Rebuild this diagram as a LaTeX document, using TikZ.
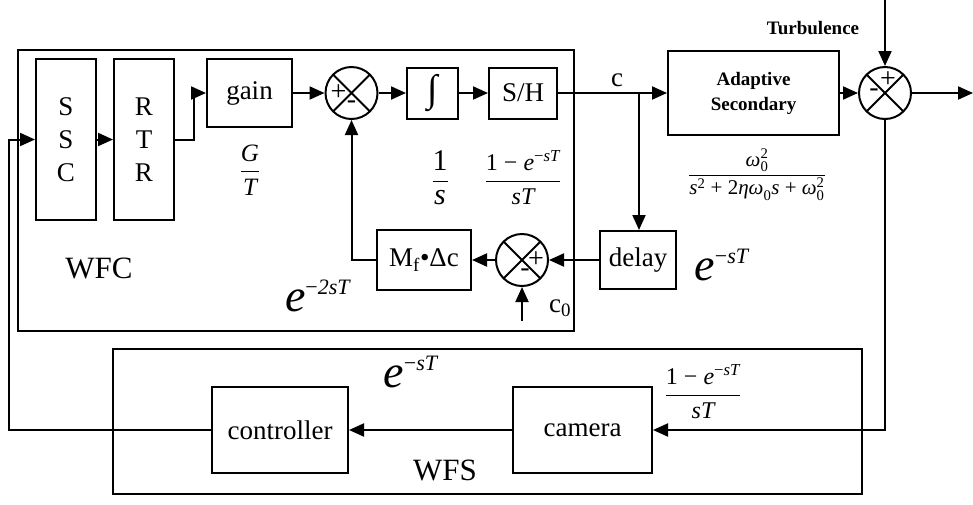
\documentclass[tikz,border=0pt]{standalone}
\usepackage{amsmath}
\usepackage{fontspec}
\setmainfont{Liberation Serif}
\usepackage{tikz}
\usetikzlibrary{positioning,arrows.meta}

\newcommand{\vi}[1]{\textit{#1}}
\newcommand{\zoh}{$\dfrac{\text{1 − }\vi{e}^{\text{−}\vi{sT}}}{\vi{sT}}$}
\newcommand{\bige}[1]{\vi{e}\raisebox{17pt}{\fontsize{22}{22}\selectfont−\vi{#1}}}

\begin{document}
\begin{tikzpicture}[
x=1pt, y=-1pt,
every node/.style={inner sep=0pt, font=\fontsize{27}{33}\selectfont},
blk/.style={draw, line width=2pt, align=center},
sumj/.style={
    draw, circle, line width=2pt, minimum size=52pt,
    path picture={\draw[line width=2pt]
        (path picture bounding box.north west) -- (path picture bounding box.south east)
        (path picture bounding box.north east) -- (path picture bounding box.south west);}
},
sgn/.style={font=\fontsize{28}{28}\selectfont},
arrow/.style={-{Triangle[length=15pt,width=13pt]}, line width=2pt},
bigexp/.style={font=\fontsize{46}{48}\selectfont},
tf/.style={font=\fontsize{24}{28}\selectfont}
]
\useasboundingbox (0,0) rectangle (973,504);

\node (wfc) [draw, line width=2pt, minimum width=556pt, minimum height=281pt] at (296,190.5) {};
\node (wfs) [draw, line width=2pt, minimum width=749pt, minimum height=145pt] at (487.5,421.5) {};

\node (ssc) [blk, minimum width=60pt, minimum height=161pt] at (66,139.5) {S\\S\\C};
\node (rtr) [blk, minimum width=60pt, minimum height=161pt, right=16pt of ssc] {R\\T\\R};
\node (gain) [blk, minimum width=85pt, minimum height=68pt] at (249.5,93) {gain};
\node (s1) [sumj] at (351.5,93) {};
\node (intg) [blk, minimum width=51pt, minimum height=51pt, font=\fontsize{38}{40}\selectfont] at (432.5,93) {∫};
\node (sh) [blk, minimum width=68pt, minimum height=51pt] at (523,93) {S/H};
\node (as) [blk, minimum width=171pt, minimum height=84pt, font=\fontsize{19}{25}\selectfont\bfseries] at (753.5,93) {Adaptive\\Secondary};
\node (s2) [sumj] at (885,93) {};
\node (delay) [blk, minimum width=76pt, minimum height=58pt] at (638,260) {delay};
\node (s3) [sumj] at (522,260) {};
\node (mbox) [blk, minimum width=94pt, minimum height=60pt] at (424,260) {M\textsubscript{f}•Δc};
\node (ctrl) [blk, minimum width=136pt, minimum height=86pt] at (280,430) {controller};
\node (cam) [blk, minimum width=139pt, minimum height=86pt] at (582.5,430) {camera};

\node (s1p) [sgn] at ([xshift=-13pt]s1.center) {+};
\node (s1m) [sgn] at ([yshift=-12pt]s1.center) {-};
\node (s2p) [sgn] at ([xshift=3pt,yshift=13pt]s2.center) {+};
\node (s2m) [sgn] at ([xshift=-11pt]s2.center) {-};
\node (s3p) [sgn] at ([xshift=14pt]s3.center) {+};
\node (s3m) [sgn] at ([xshift=3pt,yshift=-13pt]s3.center) {-};

\node (turb) [font=\fontsize{19}{22}\selectfont\bfseries] at (813,28) {Turbulence};
\node (clbl) at (617,80) {c};
\node (c0lbl) at (560,308) {c\textsubscript{0}};
\node (wfclbl) [font=\fontsize{31}{34}\selectfont] at (99,268) {WFC};
\node (wfslbl) [font=\fontsize{31}{34}\selectfont] at (445,470) {WFS};
\node (gt) [font=\fontsize{25}{28}\selectfont] at (250,170) {$\dfrac{\vi{G}}{\vi{T}}$};
\node (tfint) [font=\fontsize{30}{32}\selectfont] at (440,178) {$\dfrac{\text{1}}{\vi{s}}$};
\node (tfzoh) [tf] at (523,178) {\zoh};
\node (tfas) [font=\fontsize{21}{24}\selectfont] at (757,175)
    {$\dfrac{\vi{ω}_{\text{0}}^{\text{2}}}{\vi{s}^{\text{2}}\text{ + 2}\vi{ηω}_{\text{0}}\vi{s}\text{ + }\vi{ω}_{\text{0}}^{\text{2}}}$};
\node (tfcam) [tf] at (703,392) {\zoh};
\node (edel) [bigexp] at (722,265) {\bige{sT}};
\node (ewfs) [bigexp] at (411,372) {\bige{sT}};
\node (em) [bigexp] at (318,296) {\bige{2sT}};

\coordinate (fbl) at (9,430);
\coordinate (cj) at (639,93);
\coordinate (tin) at (885,0);
\coordinate (out) at (973,93);
\coordinate (c0) at (522,321);

\draw[arrow] (ctrl.west) -- (fbl) |- (ssc.west);
\draw[arrow] (ssc) -- (rtr);
\draw[arrow] (rtr.east) -- ++(19,0) |- (gain.west);
\draw[arrow] (gain) -- (s1);
\draw[arrow] (s1) -- (intg);
\draw[arrow] (intg) -- (sh);
\draw[arrow] (sh) -- (as);
\draw[arrow] (as) -- (s2);
\draw[arrow] (tin) -- (s2);
\draw[arrow] (s2) -- (out);
\draw[arrow] (s2.south) |- (cam.east);
\draw[arrow] (cam) -- (ctrl);
\draw[arrow] (cj) -- (cj |- delay.north);
\draw[arrow] (delay) -- (s3);
\draw[arrow] (c0) -- (s3);
\draw[arrow] (s3) -- (mbox);
\draw[arrow] (mbox.west) -| (s1.south);

\end{tikzpicture}
\end{document}
